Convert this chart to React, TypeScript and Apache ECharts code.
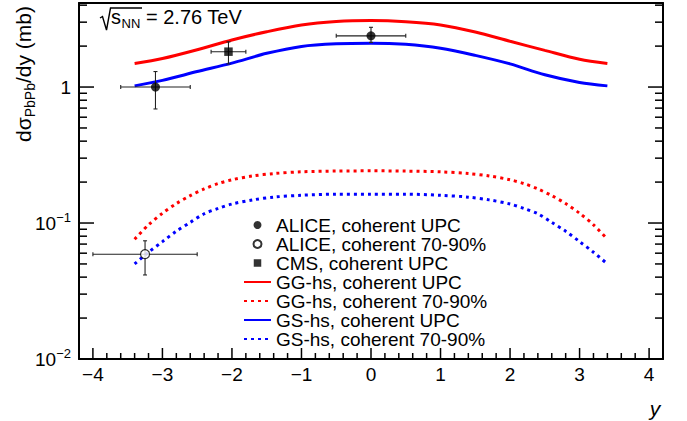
import React, { useEffect, useRef } from "react";
import * as echarts from "echarts";

const FONT = '"Liberation Sans", Arial, Helvetica, sans-serif';

// Model curves (rapidity y, dσ/dy in mb)
const upcX = [-3.4, -3.0, -2.5, -2.0, -1.5, -1.0, -0.5, 0, 0.5, 1.0, 1.5, 2.0, 2.5, 3.0, 3.4];
const ggUpc = [1.49, 1.62, 1.88, 2.22, 2.55, 2.86, 3.03, 3.08, 3.02, 2.86, 2.54, 2.17, 1.86, 1.6, 1.49];
const gsUpc = [1.02, 1.12, 1.3, 1.5, 1.77, 1.99, 2.08, 2.1, 2.06, 1.93, 1.71, 1.48, 1.23, 1.08, 1.02];

const periphX = [-3.4, -3.2, -3.0, -2.8, -2.6, -2.4, -2.2, -2.0, -1.7, -1.4, -1.0, -0.5, 0, 0.5, 1.0, 1.4, 1.7, 2.0, 2.2, 2.4, 2.6, 2.8, 3.0, 3.2, 3.4];
const gg7090 = [0.076, 0.097, 0.118, 0.139, 0.159, 0.178, 0.195, 0.208, 0.222, 0.231, 0.238, 0.241, 0.242, 0.241, 0.238, 0.231, 0.222, 0.208, 0.195, 0.178, 0.159, 0.139, 0.118, 0.097, 0.076];
const gs7090 = [0.05, 0.061, 0.073, 0.087, 0.101, 0.117, 0.128, 0.138, 0.148, 0.155, 0.16, 0.163, 0.163, 0.163, 0.16, 0.155, 0.148, 0.138, 0.128, 0.117, 0.101, 0.087, 0.073, 0.061, 0.05];

// Measurements: y, value, x half-width, lower and upper edge of the error bar
const aliceUpcY = [-3.1, 0.0];
const aliceUpcV = [1.0, 2.38];
const aliceUpcEx = [0.5, 0.5];
const aliceUpcLo = [0.69, 2.13];
const aliceUpcHi = [1.3, 2.75];

const cmsY = [-2.05];
const cmsV = [1.82];
const cmsEx = [0.25];
const cmsLo = [1.48];
const cmsHi = [2.15];

const alicePerY = [-3.25];
const alicePerV = [0.059];
const alicePerEx = [0.75];
const alicePerLo = [0.0415];
const alicePerHi = [0.074];

// Tick positions of the frame
const xMajorTicks = [-4, -3, -2, -1, 0, 1, 2, 3, 4];
const xMinorTicks = [
  -3.8, -3.6, -3.4, -3.2, -2.8, -2.6, -2.4, -2.2, -1.8, -1.6, -1.4, -1.2, -0.8, -0.6, -0.4, -0.2,
  0.2, 0.4, 0.6, 0.8, 1.2, 1.4, 1.6, 1.8, 2.2, 2.4, 2.6, 2.8, 3.2, 3.4, 3.6, 3.8,
];
const yMajorTicks = [0.1, 1];
const yMinorTicks = [0.02, 0.03, 0.04, 0.05, 0.06, 0.07, 0.08, 0.09, 0.2, 0.3, 0.4, 0.5, 0.6, 0.7, 0.8, 0.9, 2, 3, 4];

const X_MIN = -4.2;
const X_MAX = 4.2;
const Y_MIN = 0.01;
const Y_MAX = 4.15;

const NAMES = [
  "ALICE, coherent UPC",
  "ALICE, coherent 70-90%",
  "CMS, coherent UPC",
  "GG-hs, coherent UPC",
  "GG-hs, coherent 70-90%",
  "GS-hs, coherent UPC",
  "GS-hs, coherent 70-90%",
];

// square marker centred in a 27x8 legend box
const SQUARE_ICON = "path://M0,0L0.001,0.001M27,8L26.999,7.999M9.75,0.25H17.25V7.75H9.75Z";

const zip = (xs: number[], ys: number[]) => xs.map((x, i) => [x, ys[i]]);
const errRows = (xs: number[], vs: number[], ex: number[], lo: number[], hi: number[]) =>
  xs.map((x, i) => [x, vs[i], ex[i], lo[i], hi[i]]);

const minus = (s: string) => s.replace("-", "\u2212");

const seg = (x1: number, y1: number, x2: number, y2: number, stroke: string, lineWidth: number) => ({
  type: "line",
  shape: { x1, y1, x2, y2 },
  style: { stroke, lineWidth },
});

function errorBarSeries(rows: number[][]) {
  return {
    type: "custom",
    silent: true,
    z: 3,
    data: rows,
    encode: { x: 0, y: 1 },
    renderItem: (_params: any, api: any) => {
      const x = api.value(0);
      const y = api.value(1);
      const ex = api.value(2);
      const lo = api.value(3);
      const hi = api.value(4);
      const c = api.coord([x, y]);
      const l = api.coord([x - ex, y]);
      const r = api.coord([x + ex, y]);
      const t = api.coord([x, hi]);
      const b = api.coord([x, lo]);
      const cap = 2;
      const k = "#222";
      return {
        type: "group",
        children: [
          seg(l[0], c[1], r[0], c[1], k, 1.1),
          seg(c[0], t[1], c[0], b[1], k, 1.1),
          seg(l[0], c[1] - cap, l[0], c[1] + cap, k, 1.1),
          seg(r[0], c[1] - cap, r[0], c[1] + cap, k, 1.1),
          seg(c[0] - cap, t[1], c[0] + cap, t[1], k, 1.1),
          seg(c[0] - cap, b[1], c[0] + cap, b[1], k, 1.1),
        ],
      };
    },
  };
}

// Frame ticks drawn as thin rectangular markers sitting on the frame edges,
// shifted inward by half their length.
function tickMarks(points: number[][], size: number[], offset: number[]) {
  return {
    type: "scatter",
    silent: true,
    clip: false,
    z: 6,
    symbol: "rect",
    symbolSize: size,
    symbolOffset: offset,
    itemStyle: { color: "#000", opacity: 1 },
    emphasis: { disabled: true },
    data: points,
  };
}

export default function App() {
  const ref = useRef<HTMLDivElement>(null);

  useEffect(() => {
    if (!ref.current) return;
    const chart = echarts.init(ref.current, undefined, { renderer: "svg" });

    const frameLine = { show: true, onZero: false, lineStyle: { color: "#000", width: 2 } };
    const hidden = { show: false };

    const option: any = {
      animation: false,
      textStyle: { fontFamily: FONT },
      grid: { left: 79, right: 24, top: 3, bottom: 62 },
      legend: {
        orient: "vertical",
        left: 243,
        top: 215.5,
        padding: 0,
        itemGap: 0,
        itemWidth: 27,
        itemHeight: 8,
        selectedMode: false,
        textStyle: { fontSize: 19, lineHeight: 19, color: "#000", fontFamily: FONT },
        data: [
          { name: NAMES[0], icon: "circle" },
          { name: NAMES[1], icon: "circle" },
          { name: NAMES[2], icon: SQUARE_ICON },
          { name: NAMES[3], itemStyle: { opacity: 0 } },
          { name: NAMES[4], itemStyle: { opacity: 0 } },
          { name: NAMES[5], itemStyle: { opacity: 0 } },
          { name: NAMES[6], itemStyle: { opacity: 0 } },
        ],
      },
      xAxis: [
        {
          type: "value",
          min: X_MIN,
          max: X_MAX,
          splitNumber: 8,
          position: "bottom",
          axisLine: frameLine,
          splitLine: hidden,
          axisTick: hidden,
          axisLabel: {
            margin: 6,
            fontSize: 19,
            color: "#000",
            fontFamily: FONT,
            formatter: (v: number) =>
              Math.abs(v - Math.round(v)) < 1e-6 ? minus(String(Math.round(v))) : "",
          },
        },
        {
          type: "value",
          min: X_MIN,
          max: X_MAX,
          position: "top",
          axisLine: frameLine,
          splitLine: hidden,
          axisTick: hidden,
          axisLabel: hidden,
        },
      ],
      yAxis: [
        {
          type: "log",
          logBase: 10,
          min: Y_MIN,
          max: Y_MAX,
          position: "left",
          axisLine: frameLine,
          splitLine: hidden,
          axisTick: hidden,
          axisLabel: {
            margin: 8,
            color: "#000",
            fontFamily: FONT,
            formatter: (v: number) => {
              const e = Math.log10(v);
              if (Math.abs(e - Math.round(e)) > 1e-6) return "";
              const p = Math.round(e);
              if (p === 0) return "{b|1}";
              return "{b|10}{e|" + minus(String(p)) + "}";
            },
            rich: {
              b: { fontSize: 19, lineHeight: 24, color: "#000", fontFamily: FONT },
              e: { fontSize: 13, lineHeight: 13, verticalAlign: "top", color: "#000", fontFamily: FONT },
            },
          },
        },
        {
          type: "log",
          logBase: 10,
          min: Y_MIN,
          max: Y_MAX,
          position: "right",
          axisLine: frameLine,
          splitLine: hidden,
          axisTick: hidden,
          axisLabel: hidden,
        },
      ],
      series: [
        {
          name: NAMES[3],
          type: "line",
          data: zip(upcX, ggUpc),
          smooth: 0.3,
          symbol: "none",
          z: 2,
          lineStyle: { color: "#ff0000", width: 3 },
          itemStyle: { color: "#ff0000" },
        },
        {
          name: NAMES[4],
          type: "line",
          data: zip(periphX, gg7090),
          smooth: 0.3,
          symbol: "none",
          z: 2,
          lineStyle: { color: "#ff0000", width: 3, type: [3, 4] },
          itemStyle: { color: "#ff0000" },
        },
        {
          name: NAMES[5],
          type: "line",
          data: zip(upcX, gsUpc),
          smooth: 0.3,
          symbol: "none",
          z: 2,
          lineStyle: { color: "#0000ff", width: 3 },
          itemStyle: { color: "#0000ff" },
        },
        {
          name: NAMES[6],
          type: "line",
          data: zip(periphX, gs7090),
          smooth: 0.3,
          symbol: "none",
          z: 2,
          lineStyle: { color: "#0000ff", width: 3, type: [3, 4] },
          itemStyle: { color: "#0000ff" },
        },
        errorBarSeries(errRows(aliceUpcY, aliceUpcV, aliceUpcEx, aliceUpcLo, aliceUpcHi)),
        errorBarSeries(errRows(cmsY, cmsV, cmsEx, cmsLo, cmsHi)),
        errorBarSeries(errRows(alicePerY, alicePerV, alicePerEx, alicePerLo, alicePerHi)),
        {
          name: NAMES[0],
          type: "scatter",
          data: zip(aliceUpcY, aliceUpcV),
          symbol: "circle",
          symbolSize: 9,
          z: 4,
          itemStyle: { color: "#000" },
        },
        {
          name: NAMES[1],
          type: "scatter",
          data: zip(alicePerY, alicePerV),
          symbol: "circle",
          symbolSize: 9,
          z: 4,
          itemStyle: { color: "#fff", borderColor: "#000", borderWidth: 1.2 },
        },
        {
          name: NAMES[2],
          type: "scatter",
          data: zip(cmsY, cmsV),
          symbol: "rect",
          symbolSize: 8.5,
          z: 4,
          itemStyle: { color: "#000" },
        },
        // left / right frame ticks
        tickMarks(yMajorTicks.map((v) => [X_MIN, v]), [15, 1.5], [7.5, 0]),
        tickMarks(yMajorTicks.map((v) => [X_MAX, v]), [15, 1.5], [-7.5, 0]),
        tickMarks(yMinorTicks.map((v) => [X_MIN, v]), [8, 1.5], [4, 0]),
        tickMarks(yMinorTicks.map((v) => [X_MAX, v]), [8, 1.5], [-4, 0]),
        // bottom frame ticks
        tickMarks(xMajorTicks.map((v) => [v, Y_MIN]), [1.5, 11], [0, -5.5]),
        tickMarks(xMinorTicks.map((v) => [v, Y_MIN]), [1.5, 6], [0, -3]),
      ],
      graphic: [
        {
          type: "text",
          x: 23,
          y: 74,
          rotation: Math.PI / 2,
          style: {
            text: "{m|d\u03c3}{s|PbPb}{m|/dy (mb)}",
            align: "center",
            verticalAlign: "middle",
            rich: {
              m: { fontSize: 21, lineHeight: 28, fill: "#000", fontFamily: FONT },
              s: { fontSize: 14, lineHeight: 14, verticalAlign: "bottom", fill: "#000", fontFamily: FONT },
            },
          },
        },
        {
          type: "polyline",
          shape: { points: [[100, 18], [102.5, 16.5], [106.5, 30], [110.5, 8], [142, 8]] },
          style: { stroke: "#000", lineWidth: 1.4, fill: null },
        },
        {
          type: "text",
          x: 111,
          y: 16.5,
          style: { text: "s", fontSize: 20, fill: "#000", fontFamily: FONT, align: "left", verticalAlign: "middle" },
        },
        {
          type: "text",
          x: 121.5,
          y: 23.5,
          style: { text: "NN", fontSize: 13, fill: "#000", fontFamily: FONT, align: "left", verticalAlign: "middle" },
        },
        {
          type: "text",
          x: 146,
          y: 16.5,
          style: { text: "= 2.76 TeV", fontSize: 20, fill: "#000", fontFamily: FONT, align: "left", verticalAlign: "middle" },
        },
        {
          type: "text",
          x: 655,
          y: 408,
          style: {
            text: "y",
            fontSize: 21,
            fontStyle: "italic",
            fill: "#000",
            fontFamily: FONT,
            align: "center",
            verticalAlign: "middle",
          },
        },
      ],
    };

    chart.setOption(option);
    return () => chart.dispose();
  }, []);

  return (
    <div
      ref={ref}
      style={{ position: "fixed", left: 0, top: 0, width: 687, height: 421, background: "#fff" }}
    />
  );
}
